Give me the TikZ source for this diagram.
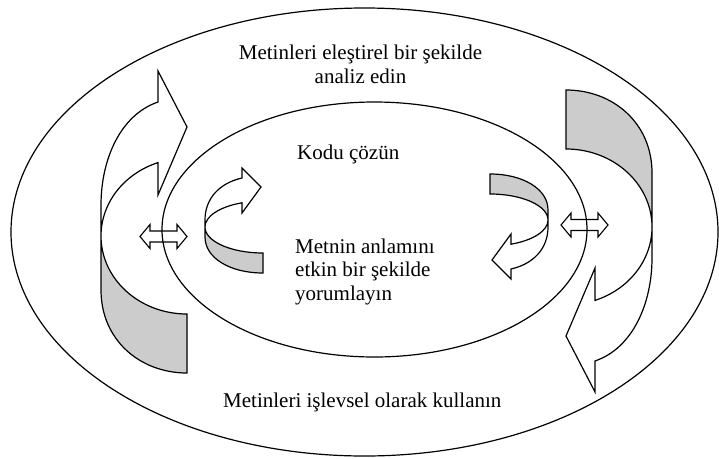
\documentclass[tikz,border=0pt]{standalone}
\usepackage{fontspec}
\setmainfont{Liberation Serif}
\newcommand\bigband{%
  \filldraw[bandback] (101,236) arc[start angle=180, end angle=90, x radius=86, y radius=78]
    -- (187,373) .. controls (140,373) and (101,340) .. (101,290) -- cycle;
  \filldraw[band] (158,102) -- (158,71) -- (187,127) -- (158,195) -- (158,162.6)
    arc[start angle=250.3, end angle=180, x radius=86, y radius=78]
    -- (101,205) .. controls (101,160) and (120,115) .. (158,102) -- cycle;
}
\newcommand\smallband{%
  \filldraw[bandback] (205,227) arc[start angle=180, end angle=90, x radius=58, y radius=26]
    -- (263,273) .. controls (230,273) and (205,258) .. (205,237) -- cycle;
  \filldraw[band] (242,178) -- (242,168) -- (261,187) -- (242,213) -- (242,202.8)
    arc[start angle=248.8, end angle=180, x radius=58, y radius=26]
    -- (205,220) .. controls (205,198) and (220,183) .. (242,178) -- cycle;
}
\begin{document}
\begin{tikzpicture}[x=1pt,y=-1pt,line join=miter,
  band/.style={draw=black, fill=white, line width=1.2pt},
  bandback/.style={draw=black, fill=gray!40, line width=1.2pt},
  ring/.style={draw=black, line width=1.2pt},
  dbl/.style={draw=black, line width=1.1pt},
  txt/.style={font=\fontsize{21}{23.5}\selectfont, inner sep=0pt}]
\useasboundingbox (0,0) rectangle (719,458);
% ellipses
\draw[ring] (364.5,232) ellipse [x radius=353.5, y radius=224];
\draw[ring] (374.5,229.5) ellipse [x radius=212.5, y radius=127.5];
% big bands
\bigband
\begin{scope}[rotate around={180:(376.5,231.5)}]
  \bigband
\end{scope}
% small bands
\smallband
\begin{scope}[rotate around={180:(376.5,223.5)}]
  \smallband
\end{scope}
% double arrows
\draw[dbl] (140,236.5) -- ++(10,-12) -- ++(0,6.5) -- ++(27,0) -- ++(0,-6.5) -- ++(10,12)
  -- ++(-10,12) -- ++(0,-6.5) -- ++(-27,0) -- ++(0,6.5) -- cycle;
\draw[dbl] (561,225) -- ++(10,-12) -- ++(0,6.5) -- ++(27,0) -- ++(0,-6.5) -- ++(10,12)
  -- ++(-10,12) -- ++(0,-6.5) -- ++(-27,0) -- ++(0,6.5) -- cycle;
% texts
\node[txt, anchor=north, align=center] (crit) at (360.5,45) {Metinleri eleştirel bir şekilde\\analiz edin};
\node[txt, anchor=base west] (code) at (297,159) {Kodu çözün};
\node[txt, anchor=north west, align=left] (mean) at (295,238.5) {Metnin anlamını\\etkin bir şekilde\\yorumlayın};
\node[txt, anchor=base west] (use) at (223,407) {Metinleri işlevsel olarak kullanın};
\end{tikzpicture}
\end{document}
